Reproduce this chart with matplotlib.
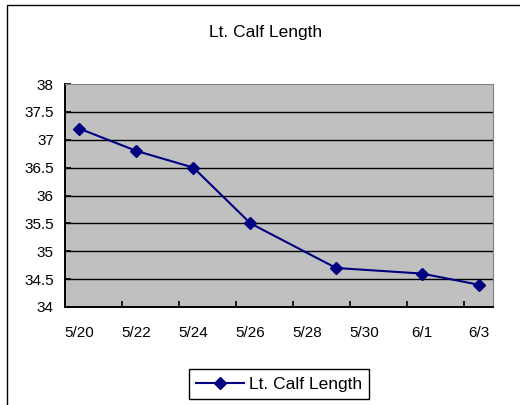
import numpy as np
import pandas as pd
import matplotlib
matplotlib.use('Agg')
import matplotlib.pyplot as plt
from matplotlib.patches import Rectangle

dates = ['2008-05-20', '2008-05-22', '2008-05-24', '2008-05-26', '2008-05-29', '2008-06-01', '2008-06-03']
calf = [37.2, 36.8, 36.5, 35.5, 34.7, 34.6, 34.4]
tick_labels = ['5/20', '5/22', '5/24', '5/26', '5/28', '5/30', '6/1', '6/3']
title = 'Lt. Calf Length'

d = pd.to_datetime(dates)
days = (d - d[0]).days.values

plt.rcParams['font.family'] = ['Liberation Sans', 'DejaVu Sans']

fig = plt.figure(figsize=(5.2, 4.05), dpi=100)
fig.patches.append(Rectangle((7 / 520, -0.1), 1.2, 1.1 - 5 / 405,
                             transform=fig.transFigure, fill=False,
                             edgecolor='black', lw=1.0))

ax = fig.add_axes([65 / 520, 98 / 405, 428 / 520, 223 / 405])
ax.set_facecolor('#C0C0C0')

ax.plot(days, calf, color='#000080', lw=1.5, marker='D', markersize=6.5,
        label=title, zorder=3)

ax.set_xlim(-0.5, 14.5)
ax.set_ylim(34, 38)
ax.set_yticks(np.arange(34, 38.01, 0.5))
ax.set_yticklabels(['34', '34.5', '35', '35.5', '36', '36.5', '37', '37.5', '38'])
ax.set_xticks(np.arange(0, 15, 2))
ax.set_xticklabels(tick_labels)
ax.set_xticks(np.arange(1.5, 14, 2), minor=True)

ax.tick_params(axis='x', which='major', length=0, pad=14, labelsize=11)
ax.tick_params(axis='x', which='minor', direction='in', length=4, width=1.2)
ax.tick_params(axis='y', direction='in', length=4, width=1.2, pad=8, labelsize=11)

for yv in np.arange(34.5, 38, 0.5):
    ax.axhline(yv, color='black', lw=1.0, zorder=1)

ax.spines['top'].set_color('#808080')
ax.spines['right'].set_color('#808080')
ax.spines['left'].set_linewidth(1.4)
ax.spines['bottom'].set_linewidth(1.4)

fig.text(266 / 520, 1 - 32 / 405, title, ha='center', va='center', fontsize=12.5)

leg = ax.legend(loc='center', bbox_to_anchor=(279 / 520, 1 - 384 / 405),
                bbox_transform=fig.transFigure, fancybox=False, framealpha=1,
                edgecolor='black', fontsize=12.5, handlelength=2.8,
                borderpad=0.4, handletextpad=0.3)
leg.get_frame().set_linewidth(1.0)

fig.savefig('out.png', dpi=100)
